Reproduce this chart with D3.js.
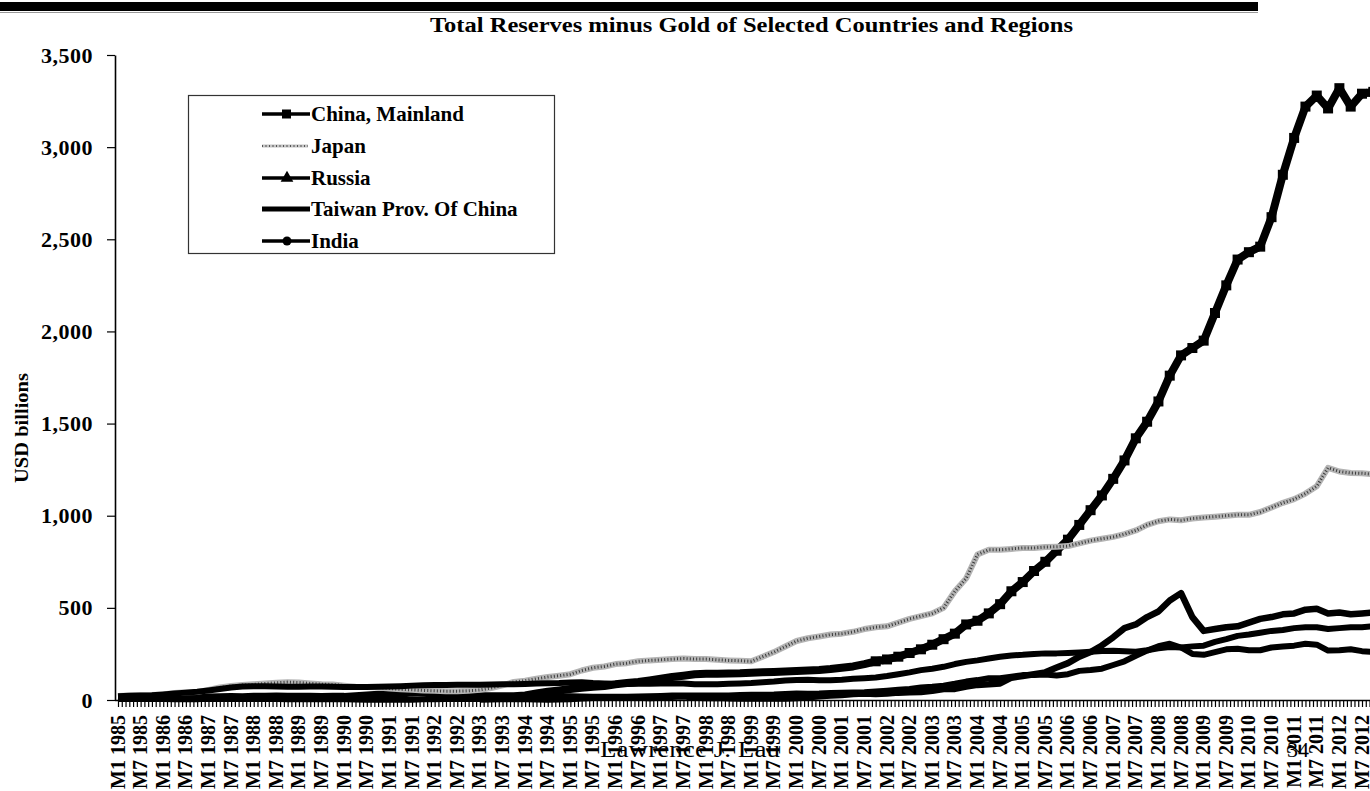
<!DOCTYPE html>
<html>
<head>
<meta charset="utf-8">
<script src="https://cdn.jsdelivr.net/npm/d3@7"></script>
<style>
body { margin: 0; background: #fff; }
svg text { font-family: "Liberation Serif", "Times New Roman", serif; font-weight: bold; fill: #000; }
</style>
</head>
<body>
<svg id="chart" width="1370" height="791"></svg>
<script>
// categories
const years = [1985, 1986, 1987, 1988, 1989, 1990, 1991, 1992, 1993, 1994, 1995, 1996, 1997, 1998,
               1999, 2000, 2001, 2002, 2003, 2004, 2005, 2006, 2007, 2008, 2009, 2010, 2011, 2012];
const monthNames = ["M1", "M2", "M3", "M4", "M5", "M6", "M7", "M8", "M9", "M10", "M11", "M12"];
const quarterMonths = ["M1", "M4", "M7", "M10"];   // values read at these months
const labelMonths = ["M1", "M7"];                 // months that get a tick label
const yTicks = [0, 500, 1000, 1500, 2000, 2500, 3000, 3500];
const seriesNames = ["China, Mainland", "Japan", "Russia", "Taiwan Prov. Of China", "India"];

// USD billions, one value per quarter (M1, M4, M7, M10), 1985 -> 2012
const china = [
  16, 14, 12, 11,   11, 10, 10, 10,
  13, 15, 16, 15,   17, 18, 19, 18,
  17, 17, 16, 17,   17, 21, 25, 28,
  30, 35, 40, 42,   30, 25, 20, 19,
  20, 20, 21, 21,   25, 35, 45, 52,
  60, 66, 72, 76,   85, 92, 98, 106,
  115, 125, 132, 140,   142, 143, 144, 145,
  148, 150, 152, 155,   158, 160, 163, 168,
  175, 182, 195, 210,   220, 235, 255, 275,
  300, 330, 360, 410,   430, 470, 520, 590,
  640, 700, 750, 810,   870, 950, 1030, 1110,
  1200, 1300, 1420, 1510,   1620, 1760, 1870, 1910,
  1950, 2100, 2250, 2390,   2430, 2460, 2620, 2850,
  3050, 3220, 3280, 3210,   3320, 3220, 3290, 3300
];
const japan = [
  22, 24, 26, 27,   30, 38, 42, 43,
  55, 68, 76, 81,   85, 90, 93, 97,
  95, 90, 86, 84,   78, 72, 70, 68,
  62, 58, 55, 52,   50, 48, 48, 50,
  55, 65, 80, 98,   105, 115, 125, 132,
  140, 160, 175, 182,   195, 200, 210, 215,
  218, 222, 225, 222,   222, 218, 215, 213,
  210, 235, 260, 290,   320, 335, 345, 355,
  360, 370, 385, 395,   400, 420, 440, 455,
  470, 500, 590, 660,   790, 815, 815, 820,
  825, 825, 830, 832,   835, 850, 865, 875,
  885, 900, 920, 950,   970, 980, 975, 985,
  990, 995, 1000, 1005,   1005, 1020, 1045, 1070,
  1090, 1120, 1160, 1260,   1240, 1232, 1230, 1225
];
const russia = [
  null, null, null, null,   null, null, null, null,
  null, null, null, null,   null, null, null, null,
  null, null, null, null,   null, null, null, null,
  null, null, null, null,   null, null, null, null,
  3, 4, 5, 6,   5, 4, 3, 4,
  6, 10, 12, 14,   13, 12, 13, 11,
  13, 18, 20, 13,   11, 12, 9, 8,
  8, 8, 8, 8,   11, 15, 20, 24,
  27, 32, 35, 33,   35, 40, 42, 44,
  50, 60, 60, 73,   82, 85, 90, 121,
  130, 140, 150, 176,   200, 235, 260, 296,
  340, 390, 410, 450,   480, 540, 580, 450,
  375, 385, 395, 400,   420, 440, 450, 465,
  470, 490, 495, 470,   475, 465, 470, 475
];
const taiwan = [
  20, 23, 25, 26,   30, 35, 40, 45,
  52, 60, 68, 73,   75, 74, 73, 72,
  72, 73, 73, 72,   70, 70, 70, 72,
  73, 75, 78, 80,   82, 82, 83, 83,
  83, 84, 85, 86,   87, 89, 91, 92,
  95, 96, 92, 90,   88, 87, 88, 88,
  89, 90, 89, 85,   85, 86, 88, 90,
  92, 96, 100, 106,   108, 110, 107, 107,
  110, 115, 118, 122,   130, 140, 150, 162,
  170, 180, 195, 207,   215, 225, 235, 242,
  245, 250, 253, 253,   255, 258, 262, 266,
  267, 265, 262, 270,   280, 288, 285, 291,
  295, 315, 330, 348,   355, 365, 375, 380,
  390, 395, 395, 385,   390, 395, 395, 400
];
const india = [
  6, 6, 6, 6,   6, 6, 6, 6,
  6, 6, 6, 5,   5, 5, 5, 4,
  4, 4, 4, 4,   4, 3, 2, 2,
  1, 1, 2, 4,   4, 5, 5, 6,
  6, 7, 8, 10,   13, 15, 17, 19,
  20, 19, 18, 17,   17, 17, 19, 20,
  22, 25, 25, 25,   25, 25, 25, 27,
  28, 29, 30, 33,   35, 34, 35, 38,
  40, 41, 42, 46,   50, 55, 60, 68,
  72, 78, 88, 100,   108, 118, 118, 127,
  135, 135, 138, 133,   140, 158, 163, 170,
  190, 210, 240, 268,   292, 305, 285, 250,
  245, 260, 275, 278,   270, 270, 285, 290,
  295, 305, 300, 268,   270, 275, 265, 260
];

const seriesValues = [china, japan, russia, taiwan, india];

// monthly categories up to M10 2012 (last quarterly point)
const categories = years.flatMap(yr => monthNames.map(m => m + " " + yr)).slice(0, 334);
const quarterCats = years.flatMap(yr => quarterMonths.map(m => m + " " + yr));

const svg = d3.select("#chart");

// header bar
svg.append("rect").attr("x", 0).attr("y", 2).attr("width", 1258).attr("height", 9).attr("fill", "#000");
svg.append("line").attr("x1", 0).attr("x2", 1258).attr("y1", 12.5).attr("y2", 12.5)
    .attr("stroke", "#999").attr("stroke-width", 1);

// title
svg.append("text")
    .attr("x", 430).attr("y", 32)
    .attr("font-size", 20)
    .attr("textLength", 643).attr("lengthAdjust", "spacingAndGlyphs")
    .text("Total Reserves minus Gold of Selected Countries and Regions");

const step = (1362 - 118) / 330;
const x = d3.scalePoint().domain(categories).range([118, 118 + (categories.length - 1) * step]);
const y = d3.scaleLinear().domain([0, 3500]).range([700, 55]);

// y axis
const yAxis = svg.append("g")
    .attr("transform", "translate(115,0)")
    .call(d3.axisLeft(y).tickValues(yTicks).tickFormat(d3.format(",")).tickSize(8).tickSizeOuter(0));
yAxis.select(".domain").attr("stroke", "#000").attr("stroke-width", 1.6);
yAxis.selectAll(".tick line").attr("stroke", "#000").attr("stroke-width", 1.2);
yAxis.selectAll(".tick text")
    .attr("x", -22)
    .attr("font-size", 22)
    .style("font-family", "'Liberation Serif', 'Times New Roman', serif")
    .style("font-weight", "bold")
    .style("letter-spacing", "0.5px");

svg.append("text")
    .attr("transform", "translate(28,428) rotate(-90)")
    .attr("text-anchor", "middle")
    .attr("font-size", 18)
    .attr("textLength", 110).attr("lengthAdjust", "spacingAndGlyphs")
    .text("USD billions");

// x axis
const xAxis = svg.append("g")
    .attr("transform", "translate(0,700)")
    .call(d3.axisBottom(x)
        .tickValues(categories)
        .tickSize(7)
        .tickSizeOuter(0)
        .tickFormat(c => labelMonths.includes(c.split(" ")[0]) ? c : ""));
xAxis.select(".domain").attr("stroke", "#000").attr("stroke-width", 1.6)
    .attr("d", "M115,0.5H1370");
xAxis.selectAll(".tick line").attr("stroke", "#000").attr("stroke-width", 1.2);
xAxis.selectAll(".tick text")
    .attr("transform", "rotate(-90)")
    .attr("text-anchor", "end")
    .attr("x", -15).attr("y", 0).attr("dy", "0.3em")
    .attr("font-size", 20)
    .style("font-family", "'Liberation Serif', 'Times New Roman', serif")
    .style("font-weight", "bold");

// series
const line = d3.line()
    .defined(d => d.v != null)
    .x(d => x(d.c))
    .y(d => y(d.v));

const seriesWidth = [8, 6, 6.5, 6, 6];

seriesValues.forEach((vals, i) => {
  const pts = quarterCats.map((c, j) => ({ c: c, v: vals[j] }));
  if (i == 1) {
    // Japan: grey band with dark speckles on top
    svg.append("path").datum(pts)
        .attr("fill", "none").attr("stroke", "#b4b4b4")
        .attr("stroke-width", seriesWidth[i]).attr("stroke-linejoin", "round")
        .attr("d", line);
    svg.append("path").datum(pts)
        .attr("fill", "none").attr("stroke", "#3a3a3a")
        .attr("stroke-width", 3).attr("stroke-dasharray", "1 2.2")
        .attr("d", line);
    return;
  }
  svg.append("path")
      .datum(pts)
      .attr("fill", "none")
      .attr("stroke", "#000")
      .attr("stroke-width", seriesWidth[i])
      .attr("stroke-linejoin", "round")
      .attr("d", line);
  if (i == 0) {
    // square markers make the China line look jagged like the original
    svg.append("g").selectAll("rect")
        .data(pts.filter(d => d.v > 200))
        .enter()
        .append("rect")
        .attr("x", d => x(d.c) - 5)
        .attr("y", d => y(d.v) - 5)
        .attr("width", 10).attr("height", 10)
        .attr("fill", "#000");
  }
});

// legend
const legend = svg.append("g");
legend.append("rect")
    .attr("x", 188.5).attr("y", 95.5).attr("width", 366).attr("height", 158)
    .attr("fill", "#fff").attr("stroke", "#333").attr("stroke-width", 1.2);
const rowY = [114, 146, 178, 209, 241];
seriesNames.forEach((name, i) => {
  const ly = rowY[i];
  if (i == 1) {
    legend.append("line")
        .attr("x1", 262).attr("x2", 308).attr("y1", ly).attr("y2", ly)
        .attr("stroke", "#c4c4c4").attr("stroke-width", 3);
    legend.append("line")
        .attr("x1", 262).attr("x2", 308).attr("y1", ly).attr("y2", ly)
        .attr("stroke", "#555").attr("stroke-width", 2).attr("stroke-dasharray", "1 2.5");
  } else {
    legend.append("line")
        .attr("x1", 262).attr("x2", 310).attr("y1", ly).attr("y2", ly)
        .attr("stroke", "#000")
        .attr("stroke-width", i == 3 ? 5 : 3.5);
  }
  if (i == 0) {
    legend.append("rect").attr("x", 282).attr("y", ly - 4.5).attr("width", 9).attr("height", 9).attr("fill", "#000");
  } else if (i == 2) {
    legend.append("path")
        .attr("transform", "translate(287," + ly + ")")
        .attr("d", d3.symbol(d3.symbolTriangle, 70))
        .attr("fill", "#000");
  } else if (i == 4) {
    legend.append("circle").attr("cx", 287).attr("cy", ly).attr("r", 4.5).attr("fill", "#000");
  }
  legend.append("text")
      .attr("x", 311).attr("y", ly + 6.5)
      .attr("font-size", 21)
      .text(name);
});

// slide footer text that overlaps the chart
svg.append("text")
    .attr("x", 600).attr("y", 757)
    .attr("font-size", 24)
    .style("font-weight", "normal")
    .attr("textLength", 180).attr("lengthAdjust", "spacingAndGlyphs")
    .text("Lawrence J. Lau");
svg.append("text")
    .attr("x", 1287).attr("y", 757)
    .attr("font-size", 22)
    .style("font-weight", "normal")
    .text("34");
</script>
</body>
</html>
